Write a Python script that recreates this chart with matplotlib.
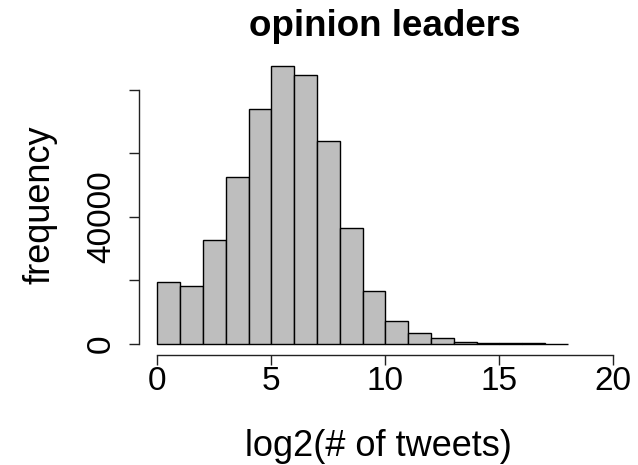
import matplotlib
matplotlib.use("Agg")
import matplotlib.pyplot as plt

plt.rcParams["font.family"] = ["Liberation Sans", "DejaVu Sans"]

# histogram of log2 tweet counts, unit-width bins from 0 to 18
bin_left = list(range(18))
counts = [19500, 18300, 32600, 52400, 73800, 87400, 84700, 63800, 36500,
          16700, 7000, 3250, 1800, 650, 300, 120, 60, 30]

x_ticks = [0, 5, 10, 15, 20]
y_ticks = [0, 20000, 40000, 60000, 80000]
y_ticklabels = ["0", "", "40000", "", ""]

fig = plt.figure(figsize=(6.38, 4.65), dpi=100)
ax = fig.add_axes([0.2183, 0.2366, 0.7502, 0.6454])

ax.bar(bin_left, counts, width=1, align="edge", color="#bebebe",
       edgecolor="black", linewidth=1.0)

ax.set_xlim(-0.79, 20.2)
ax.set_ylim(-3560, 91000)

for side in ("top", "right"):
    ax.spines[side].set_visible(False)
ax.spines["left"].set_bounds(0, 80000)
ax.spines["bottom"].set_bounds(0, 20)
for side in ("left", "bottom"):
    ax.spines[side].set_linewidth(1.0)
    ax.spines[side].set_color("#222222")

ax.set_xticks(x_ticks)
ax.set_xticklabels([str(t) for t in x_ticks])
ax.set_yticks(y_ticks)
ax.set_yticklabels(y_ticklabels, rotation=90, va="center")
ax.tick_params(axis="both", direction="out", length=7, width=1.0,
               color="#222222", labelsize=24)
ax.tick_params(axis="x", pad=1)
ax.tick_params(axis="y", pad=9)

ax.set_xlabel("log2(# of tweets)", fontsize=26)
ax.xaxis.set_label_coords(0.5, -0.248)
ax.set_ylabel("frequency", fontsize=26)
ax.yaxis.set_label_coords(-0.17, 0.5)
fig.text(0.603, 0.942, "opinion leaders", fontsize=26.5, fontweight="bold",
         ha="center", va="center")

fig.savefig("out.png", dpi=100)
